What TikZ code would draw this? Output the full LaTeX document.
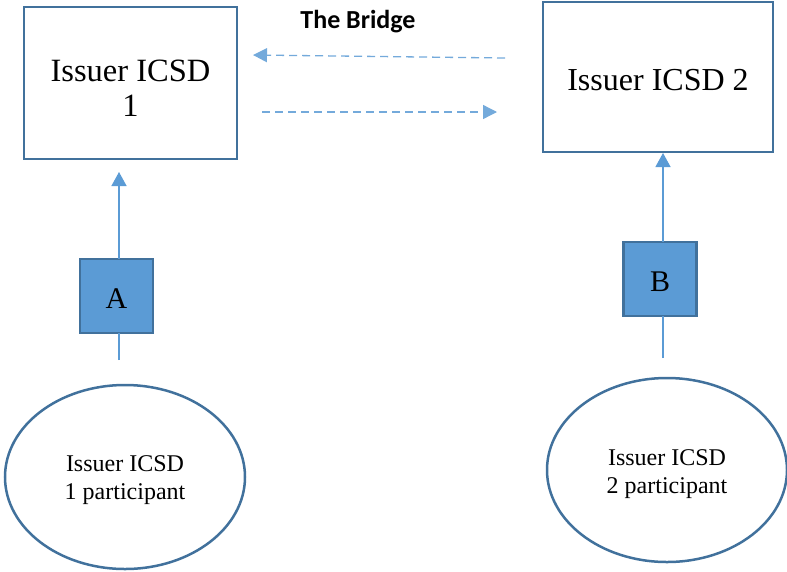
\documentclass[tikz,border=0pt]{standalone}
\usepackage{fontspec}
\setmainfont{Liberation Serif}
\newfontfamily\bridgefont{Carlito}
\usetikzlibrary{arrows.meta,shapes.geometric}
\definecolor{edgeblue}{HTML}{41719C}
\definecolor{fillblue}{HTML}{5B9BD5}
\definecolor{arrowblue}{HTML}{5B9BD5}
\tikzset{
  bigbox/.style={draw=edgeblue,line width=2.5pt,fill=white,inner sep=0pt},
  boxtext/.style={align=center,inner sep=0pt,font=\fontsize{32.5}{35}\selectfont},
  letterbox/.style={draw=edgeblue,line width=2.5pt,fill=fillblue,inner sep=0pt,minimum width=73pt,minimum height=74pt},
  lettertext/.style={inner sep=0pt,font=\fontsize{30}{34}\selectfont},
  partell/.style={draw=edgeblue,line width=2.5pt,ellipse,inner sep=0pt,minimum width=240pt,minimum height=184pt},
  elltext/.style={align=center,inner sep=0pt,font=\fontsize{24}{28}\selectfont},
  uparrow/.style={draw=arrowblue,line width=1.3pt,-{Triangle[width=15pt,length=14pt]}},
  plainline/.style={draw=arrowblue,line width=1.3pt},
  bridgearrow/.style={draw=arrowblue!85,line width=1.3pt,dash pattern=on 8pt off 5pt,-{Triangle[width=14pt,length=14pt]}}
}
\begin{document}
\begin{tikzpicture}[x=1pt,y=-1pt]
\useasboundingbox (0,0) rectangle (787,571);
% boxes
\node[bigbox,minimum width=213pt,minimum height=152pt] (icsd1) at (130.5,83) {};
\node[boxtext] (icsd1t) at (130.5,88) {Issuer ICSD\\1};
\node[bigbox,minimum width=230pt,minimum height=150pt] (icsd2) at (658,77) {};
\node[boxtext,font=\fontsize{32}{35}\selectfont] (icsd2t) at (658,80) {Issuer ICSD 2};
\node[font=\bridgefont\bfseries\fontsize{26}{30}\selectfont] (bridge) at (358,22) {The Bridge};
% bridge arrows
\coordinate (b1s) at (505,58);
\coordinate (b1e) at (253,55);
\coordinate (b2s) at (262,112);
\coordinate (b2e) at (497,112);
\draw[bridgearrow] (b1s) -- (b1e);
\draw[bridgearrow] (b2s) -- (b2e);
% letter boxes
\node[letterbox] (A) at (116.5,296) {};
\node[lettertext] (At) at (116.5,299) {A};
\node[letterbox] (B) at (660,279) {};
\node[lettertext] (Bt) at (660,282) {B};
% ellipses
\node[partell] (p1) at (125,477) {};
\node[elltext] (p1t) at (125,480) {Issuer ICSD\\1 participant};
\node[partell] (p2) at (667,470) {};
\node[elltext] (p2t) at (667,474.5) {Issuer ICSD\\2 participant};
% vertical connectors
\coordinate (a0) at (119,360);
\coordinate (a1) at (119,333);
\coordinate (a2) at (119,259);
\coordinate (a3) at (119,172);
\draw[plainline] (a0) -- (a1);
\draw[uparrow] (a2) -- (a3);
\coordinate (c0) at (663,358);
\coordinate (c1) at (663,316);
\coordinate (c2) at (663,242);
\coordinate (c3) at (663,153);
\draw[plainline] (c0) -- (c1);
\draw[uparrow] (c2) -- (c3);
\end{tikzpicture}
\end{document}
